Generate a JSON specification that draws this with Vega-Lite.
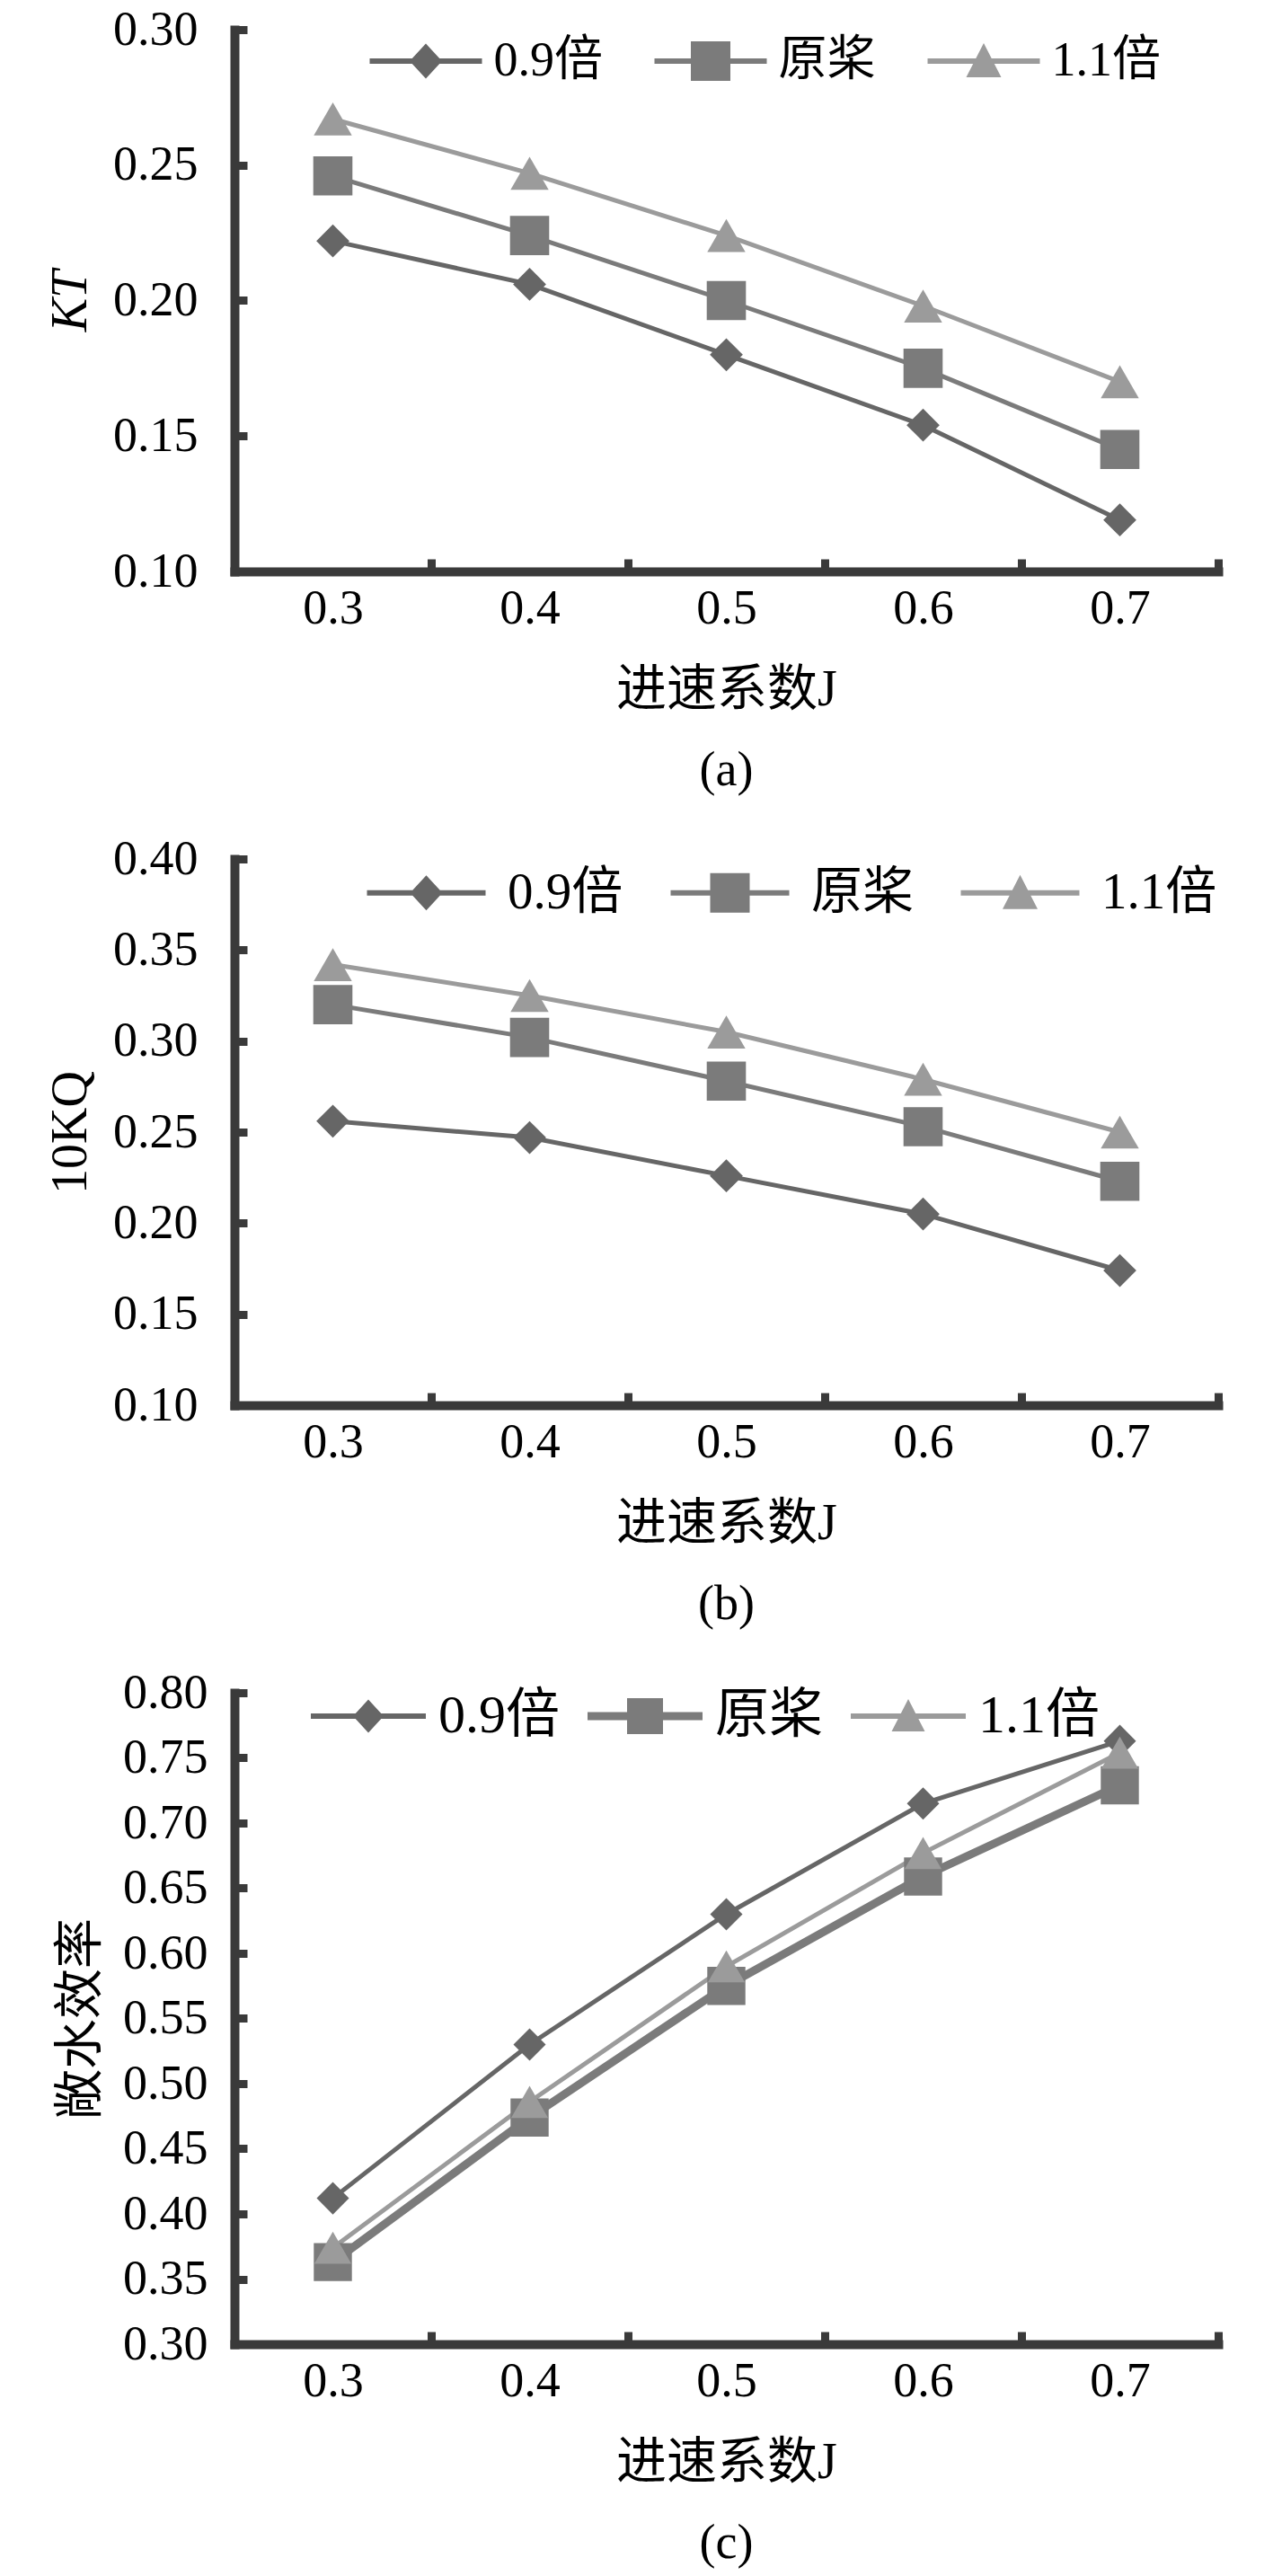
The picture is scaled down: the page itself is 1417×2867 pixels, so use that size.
{
  "$schema": "https://vega.github.io/schema/vega-lite/v6.json",
  "background": "white",
  "padding": {"left": 50, "top": 6, "right": 5, "bottom": 5},
  "spacing": 320,
  "bounds": "flush",
  "config": {
    "view": {"stroke": null},
    "axis": {
      "grid": false,
      "domainColor": "#3a3a3a",
      "domainWidth": 10,
      "domainCap": "square",
      "tickColor": "#3a3a3a",
      "tickWidth": 9,
      "tickSize": -14,
      "labelFont": "Liberation Serif",
      "labelFontSize": 54,
      "labelColor": "#000000",
      "titleFont": "Liberation Serif, Noto Sans CJK SC",
      "titleFontSize": 56,
      "titleFontWeight": "normal",
      "titleColor": "#000000"
    },
    "axisX": {"labelPadding": 28, "titlePadding": 36, "labelAngle": 0, "tickBand": "extent"},
    "axisY": {"labelPadding": 55, "titlePadding": 18},
    "legend": {
      "orient": "none",
      "direction": "horizontal",
      "padding": 0,
      "title": null,
      "symbolSize": 2500,
      "labelFont": "Liberation Serif, Noto Sans CJK SC",
      "labelFontSize": 54,
      "labelColor": "#000000",
      "labelLimit": 400
    },
    "title": {"font": "Liberation Serif", "fontSize": 54, "fontWeight": "normal", "color": "#000000", "orient": "bottom", "anchor": "middle", "offset": 36}
  },
  "resolve": {
    "scale": {"x": "independent", "y": "independent", "color": "independent"},
    "legend": {"color": "independent"}
  },
  "vconcat": [
    {
      "width": 1095,
      "height": 603,
      "title": "(a)",
      "data": {"values": [
        {"J": "0.3", "s": "0.9倍", "v": 0.222}, {"J": "0.4", "s": "0.9倍", "v": 0.206}, {"J": "0.5", "s": "0.9倍", "v": 0.180}, {"J": "0.6", "s": "0.9倍", "v": 0.154}, {"J": "0.7", "s": "0.9倍", "v": 0.119},
        {"J": "0.3", "s": "原桨", "v": 0.246}, {"J": "0.4", "s": "原桨", "v": 0.224}, {"J": "0.5", "s": "原桨", "v": 0.200}, {"J": "0.6", "s": "原桨", "v": 0.175}, {"J": "0.7", "s": "原桨", "v": 0.145},
        {"J": "0.3", "s": "1.1倍", "v": 0.267}, {"J": "0.4", "s": "1.1倍", "v": 0.247}, {"J": "0.5", "s": "1.1倍", "v": 0.224}, {"J": "0.6", "s": "1.1倍", "v": 0.198}, {"J": "0.7", "s": "1.1倍", "v": 0.170}
      ]},
      "encoding": {
        "x": {"field": "J", "type": "ordinal", "bandPosition": 0.5, "scale": {"type": "band", "paddingInner": 0, "paddingOuter": 0}, "axis": {"title": "进速系数J"}},
        "y": {"field": "v", "type": "quantitative", "scale": {"domain": [0.1, 0.3], "nice": false, "zero": false}, "axis": {"values": [0.1, 0.15, 0.2, 0.25, 0.3], "format": ".2f", "title": "KT", "titleFontStyle": "italic"}},
        "color": {
          "field": "s", "type": "nominal",
          "scale": {"domain": ["0.9倍", "原桨", "1.1倍"], "range": ["#666666", "#7b7b7b", "#9b9b9b"]},
          "legend": {
            "legendX": 186, "legendY": 8, "labelOffset": 48.5, "columnPadding": 57,
            "encode": {"symbols": {"update": {
              "shape": {"signal": "datum.value === '0.9倍' ? 'M-2.5,-0.12H2.5V0.12H-2.5Z M0,-0.78L0.72,0L0,0.78L-0.72,0Z' : datum.value === '原桨' ? 'M-2.5,-0.12H2.5V0.12H-2.5Z M-0.88,-0.88H0.88V0.88H-0.88Z' : 'M-2.5,-0.12H2.5V0.12H-2.5Z M0,-0.8L0.78,0.72H-0.78Z'"},
              "strokeWidth": {"value": 0},
              "opacity": {"value": 1},
              "size": {"value": 2500}
            }}}
          }
        }
      },
      "layer": [
        {"mark": {"type": "line", "strokeWidth": 5}},
        {
          "mark": {"type": "point", "filled": true, "opacity": 1},
          "encoding": {
            "shape": {"condition": [{"test": "datum.s === '0.9倍'", "value": "diamond"}, {"test": "datum.s === '原桨'", "value": "square"}], "value": "triangle-up"},
            "size": {"condition": [{"test": "datum.s === '0.9倍'", "value": 1350}, {"test": "datum.s === '原桨'", "value": 1900}], "value": 1800}
          }
        }
      ]
    },
    {
      "width": 1095,
      "height": 608,
      "title": "(b)",
      "data": {"values": [
        {"J": "0.3", "s": "0.9倍", "v": 0.256}, {"J": "0.4", "s": "0.9倍", "v": 0.247}, {"J": "0.5", "s": "0.9倍", "v": 0.226}, {"J": "0.6", "s": "0.9倍", "v": 0.205}, {"J": "0.7", "s": "0.9倍", "v": 0.174},
        {"J": "0.3", "s": "原桨", "v": 0.320}, {"J": "0.4", "s": "原桨", "v": 0.302}, {"J": "0.5", "s": "原桨", "v": 0.278}, {"J": "0.6", "s": "原桨", "v": 0.253}, {"J": "0.7", "s": "原桨", "v": 0.223},
        {"J": "0.3", "s": "1.1倍", "v": 0.342}, {"J": "0.4", "s": "1.1倍", "v": 0.325}, {"J": "0.5", "s": "1.1倍", "v": 0.305}, {"J": "0.6", "s": "1.1倍", "v": 0.279}, {"J": "0.7", "s": "1.1倍", "v": 0.250}
      ]},
      "encoding": {
        "x": {"field": "J", "type": "ordinal", "bandPosition": 0.5, "scale": {"type": "band", "paddingInner": 0, "paddingOuter": 0}, "axis": {"title": "进速系数J"}},
        "y": {"field": "v", "type": "quantitative", "scale": {"domain": [0.1, 0.4], "nice": false, "zero": false}, "axis": {"values": [0.1, 0.15, 0.2, 0.25, 0.3, 0.35, 0.4], "format": ".2f", "title": "10KQ"}},
        "color": {
          "field": "s", "type": "nominal",
          "scale": {"domain": ["0.9倍", "原桨", "1.1倍"], "range": ["#666666", "#7b7b7b", "#9b9b9b"]},
          "legend": {
            "legendX": 185, "legendY": 9, "labelOffset": 62, "columnPadding": 52, "labelFontSize": 57,
            "encode": {"symbols": {"update": {
              "shape": {"signal": "datum.value === '0.9倍' ? 'M-2.64,-0.12H2.64V0.12H-2.64Z M0,-0.78L0.72,0L0,0.78L-0.72,0Z' : datum.value === '原桨' ? 'M-2.64,-0.12H2.64V0.12H-2.64Z M-0.88,-0.88H0.88V0.88H-0.88Z' : 'M-2.64,-0.12H2.64V0.12H-2.64Z M0,-0.8L0.78,0.72H-0.78Z'"},
              "strokeWidth": {"value": 0},
              "opacity": {"value": 1},
              "size": {"value": 2500}
            }}}
          }
        }
      },
      "layer": [
        {"mark": {"type": "line", "strokeWidth": 5}},
        {
          "mark": {"type": "point", "filled": true, "opacity": 1},
          "encoding": {
            "shape": {"condition": [{"test": "datum.s === '0.9倍'", "value": "diamond"}, {"test": "datum.s === '原桨'", "value": "square"}], "value": "triangle-up"},
            "size": {"condition": [{"test": "datum.s === '0.9倍'", "value": 1350}, {"test": "datum.s === '原桨'", "value": 1900}], "value": 1800}
          }
        }
      ]
    },
    {
      "width": 1095,
      "height": 725,
      "title": "(c)",
      "data": {"values": [
        {"J": "0.3", "s": "0.9倍", "v": 0.412}, {"J": "0.4", "s": "0.9倍", "v": 0.530}, {"J": "0.5", "s": "0.9倍", "v": 0.630}, {"J": "0.6", "s": "0.9倍", "v": 0.715}, {"J": "0.7", "s": "0.9倍", "v": 0.763},
        {"J": "0.3", "s": "原桨", "v": 0.363}, {"J": "0.4", "s": "原桨", "v": 0.474}, {"J": "0.5", "s": "原桨", "v": 0.575}, {"J": "0.6", "s": "原桨", "v": 0.659}, {"J": "0.7", "s": "原桨", "v": 0.729},
        {"J": "0.3", "s": "1.1倍", "v": 0.374}, {"J": "0.4", "s": "1.1倍", "v": 0.486}, {"J": "0.5", "s": "1.1倍", "v": 0.590}, {"J": "0.6", "s": "1.1倍", "v": 0.677}, {"J": "0.7", "s": "1.1倍", "v": 0.754}
      ]},
      "encoding": {
        "x": {"field": "J", "type": "ordinal", "bandPosition": 0.5, "scale": {"type": "band", "paddingInner": 0, "paddingOuter": 0}, "axis": {"title": "进速系数J"}},
        "y": {"field": "v", "type": "quantitative", "scale": {"domain": [0.3, 0.8], "nice": false, "zero": false}, "axis": {"values": [0.3, 0.35, 0.4, 0.45, 0.5, 0.55, 0.6, 0.65, 0.7, 0.75, 0.8], "format": ".2f", "title": "敞水效率", "labelPadding": 44}},
        "color": {
          "field": "s", "type": "nominal",
          "scale": {"domain": ["0.9倍", "原桨", "1.1倍"], "range": ["#666666", "#7b7b7b", "#9b9b9b"]},
          "legend": {
            "legendX": 119, "legendY": -4, "labelOffset": 48, "columnPadding": 31, "labelFontSize": 60,
            "encode": {"symbols": {"update": {
              "shape": {"signal": "datum.value === '0.9倍' ? 'M-2.56,-0.12H2.56V0.12H-2.56Z M0,-0.74L0.68,0L0,0.74L-0.68,0Z' : datum.value === '原桨' ? 'M-2.56,-0.18H2.56V0.18H-2.56Z M-0.8,-0.8H0.8V0.8H-0.8Z' : 'M-2.56,-0.12H2.56V0.12H-2.56Z M0,-0.76L0.74,0.68H-0.74Z'"},
              "strokeWidth": {"value": 0},
              "opacity": {"value": 1},
              "size": {"value": 2500}
            }}}
          }
        }
      },
      "layer": [
        {
          "mark": {"type": "line"},
          "encoding": {"strokeWidth": {"condition": {"test": "datum.s === '原桨'", "value": 9}, "value": 5}}
        },
        {
          "mark": {"type": "point", "filled": true, "opacity": 1},
          "encoding": {
            "shape": {"condition": [{"test": "datum.s === '0.9倍'", "value": "diamond"}, {"test": "datum.s === '原桨'", "value": "square"}], "value": "triangle-up"},
            "size": {"condition": [{"test": "datum.s === '0.9倍'", "value": 1300}, {"test": "datum.s === '原桨'", "value": 1800}], "value": 1700}
          }
        }
      ]
    }
  ]
}
